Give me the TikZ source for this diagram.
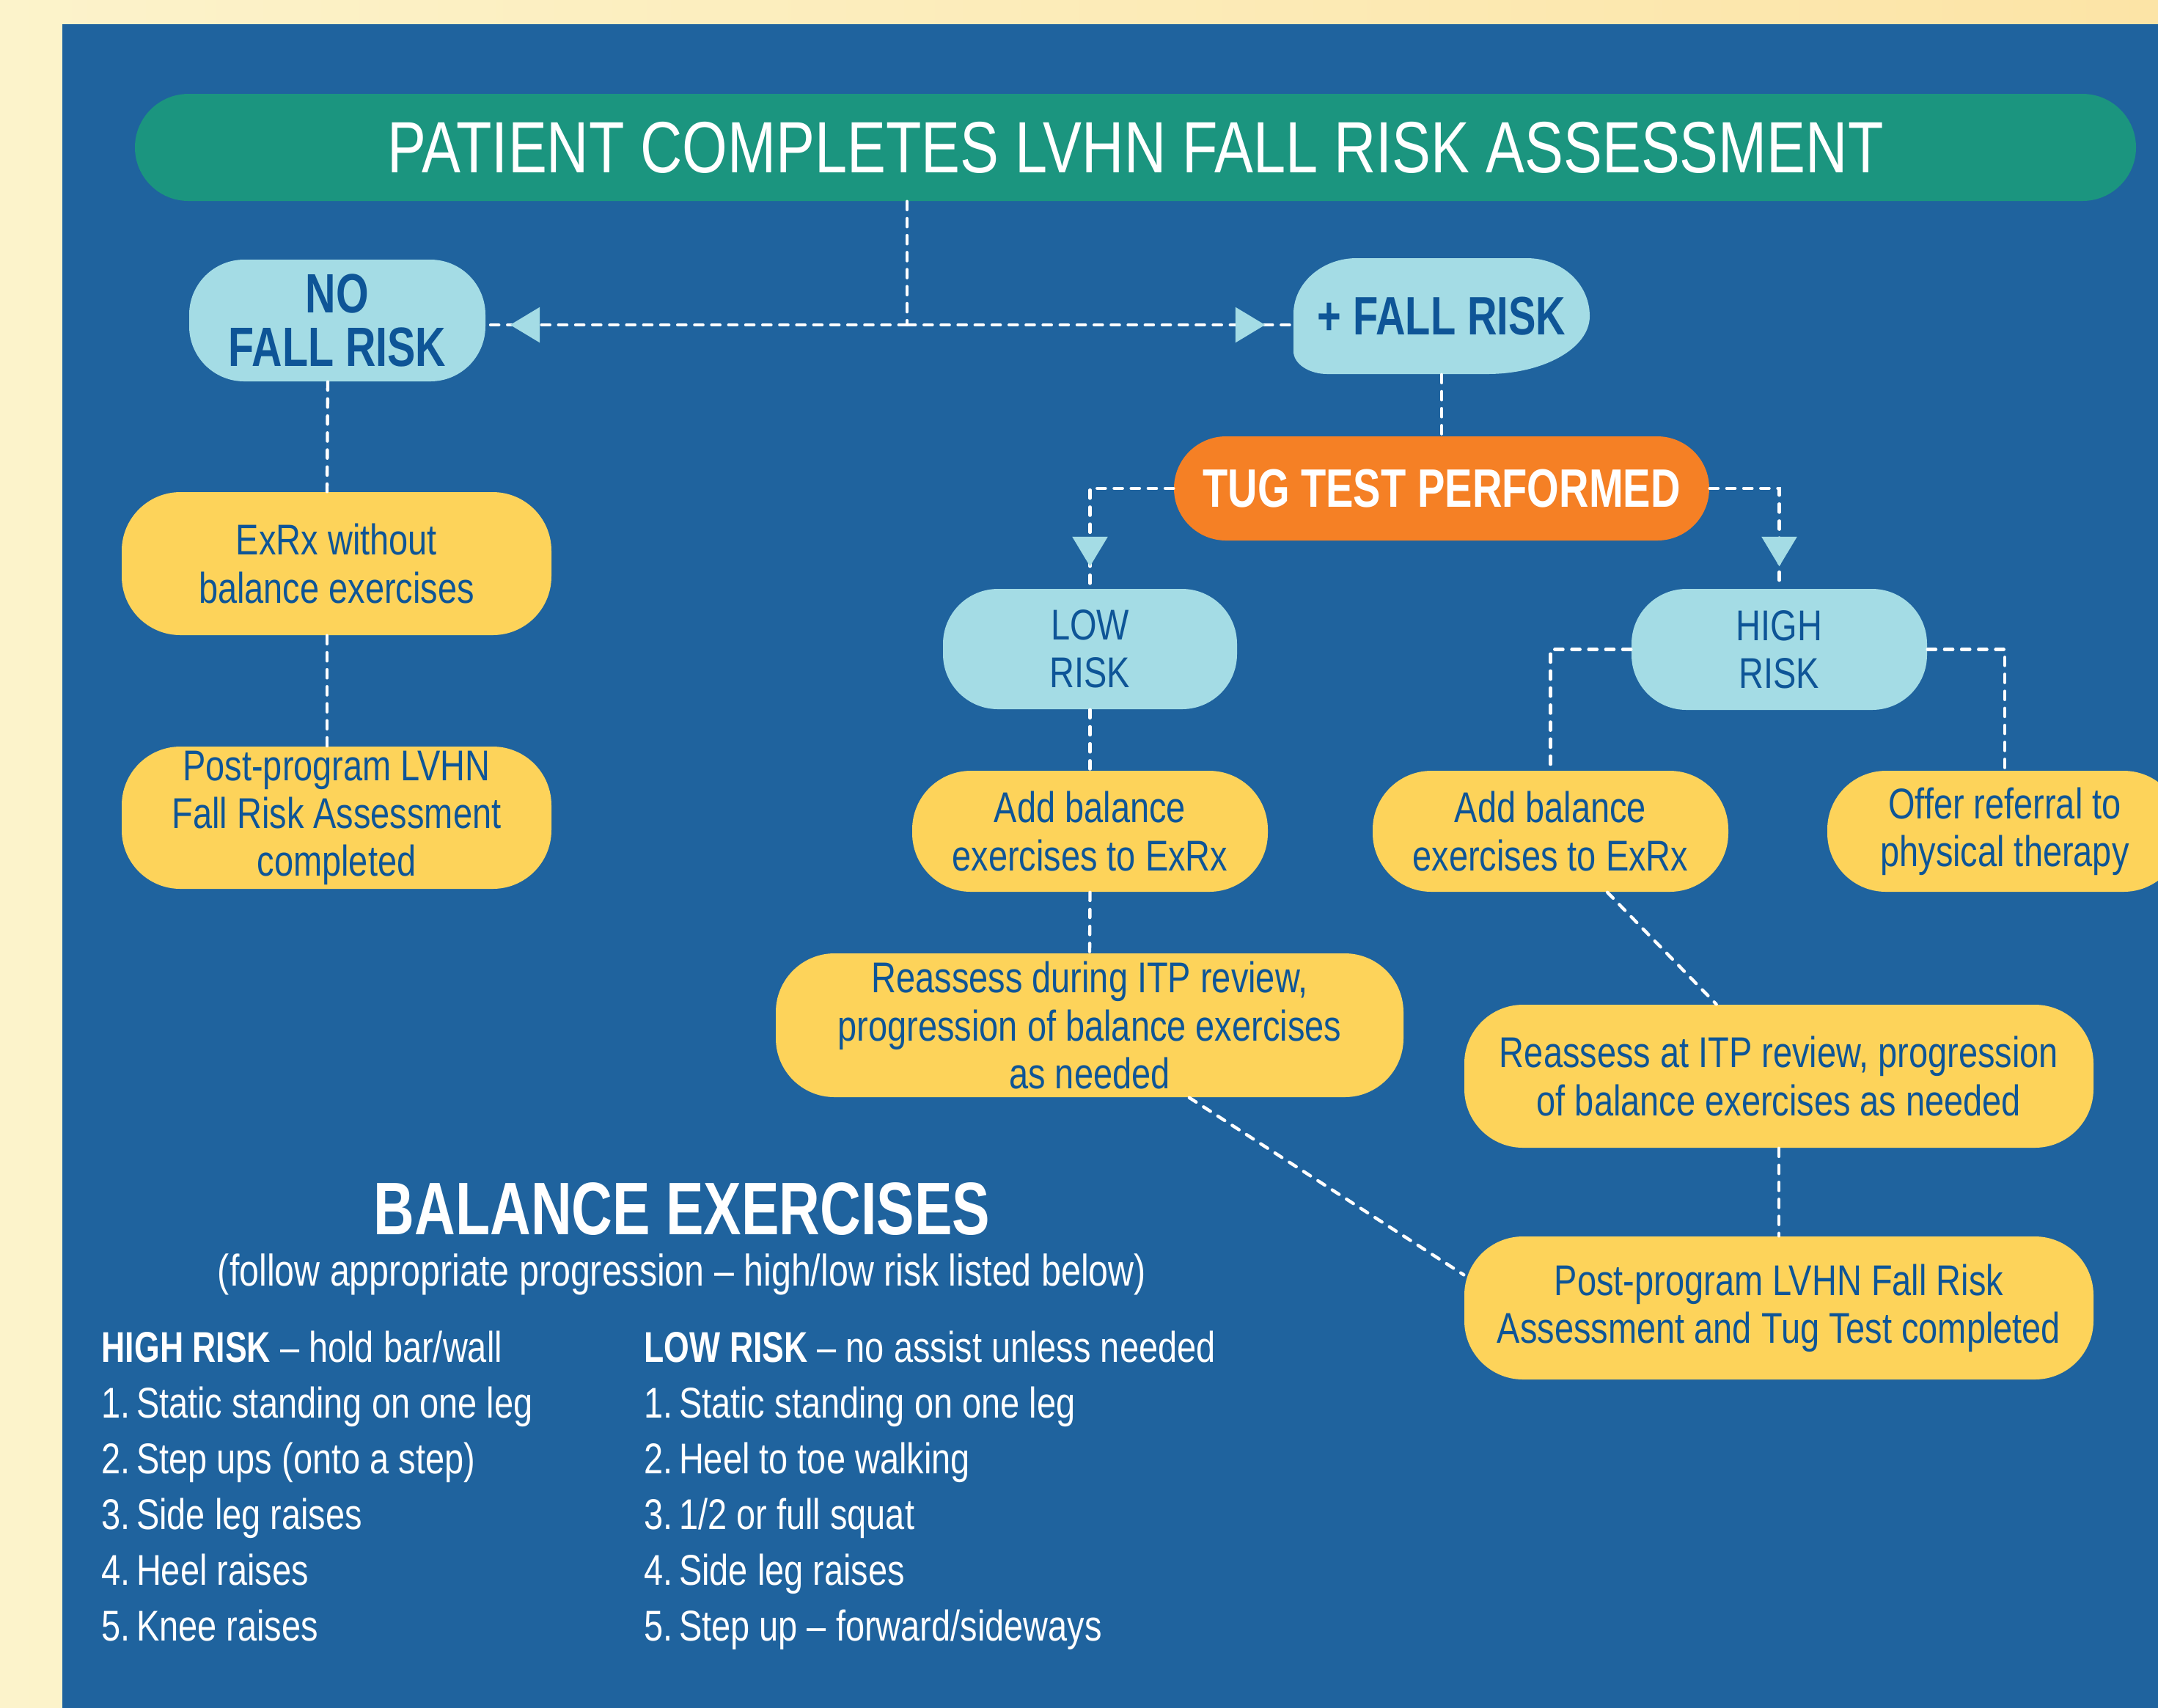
\documentclass[tikz,border=0pt]{standalone}
\usepackage{fontspec}
\setmainfont[FakeStretch=0.8,BoldFeatures={FakeStretch=0.76}]{Liberation Sans}
\usetikzlibrary{arrows.meta,decorations.markings}

\definecolor{creamA}{HTML}{FCF3CB}
\definecolor{creamB}{HTML}{FCE4A6}
\definecolor{panelblue}{HTML}{1F639E}
\definecolor{titlegreen}{HTML}{1B957F}
\definecolor{riskblue}{HTML}{A4DCE5}
\definecolor{textblue}{HTML}{0E5597}
\definecolor{tugorange}{HTML}{F58025}
\definecolor{stepyellow}{HTML}{FDD35A}

\newcommand\flowfont{\fontsize{16.7}{18.5}\selectfont}

\tikzset{
  link/.style={draw=white, line width=1.25pt, line cap=round, dash pattern=on 3.2pt off 3.4pt},
  midtip/.style={postaction={decorate, decoration={markings,
      mark=at position #1 with {\arrow{Triangle[length=11.5pt,width=13.5pt,color=riskblue]}}}}},
  riskbox/.style={fill=riskblue, text=textblue, align=center, inner sep=0pt,
    rounded corners=0.75cm, font=\flowfont},
  stepbox/.style={fill=stepyellow, text=textblue, align=center, inner sep=0pt,
    rounded corners=0.8cm, font=\flowfont},
  listline/.style={anchor=base west, inner sep=0pt, text=white, font=\flowfont},
}

\begin{document}
\begin{tikzpicture}
  \useasboundingbox (0,0) rectangle (29.43,-23.28);
  \shade[left color=creamA, right color=creamB] (0,0) rectangle (29.43,-23.28);
  \fill[panelblue] (0.85,-0.33) rectangle (29.6,-23.6);

  % top of the chart
  \node[fill=titlegreen, text=white, rounded corners=0.73cm, inner sep=0pt,
    minimum width=27.29cm, minimum height=1.46cm,
    font=\fontsize{28.2}{30}\selectfont] (title) at (15.485,-2.01)
    {PATIENT COMPLETES LVHN FALL RISK ASSESSMENT};

  \node[riskbox, minimum width=4.04cm, minimum height=1.66cm,
    font=\fontsize{21.5}{20.8}\selectfont\bfseries] (nofall) at (4.60,-4.37) {NO\\FALL RISK};

  \fill[riskblue] (17.64,-4.28) .. controls (17.64,-3.86) and (18.03,-3.52) .. (18.50,-3.52)
    -- (20.82,-3.52) .. controls (21.30,-3.52) and (21.68,-3.87) .. (21.68,-4.31)
    .. controls (21.68,-4.75) and (21.05,-5.10) .. (20.28,-5.10)
    -- (18.10,-5.10) .. controls (17.85,-5.10) and (17.64,-4.96) .. (17.64,-4.79) -- cycle;
  \node[text=textblue, inner sep=0pt, minimum width=4.04cm, minimum height=1.58cm,
    font=\fontsize{21}{24}\selectfont\bfseries] (plus) at (19.66,-4.31) {+ FALL RISK};

  \node[fill=tugorange, text=white, rounded corners=0.71cm, inner sep=0pt,
    minimum width=7.30cm, minimum height=1.42cm,
    font=\fontsize{21}{24}\selectfont\bfseries] (tug) at (19.66,-6.66) {TUG TEST PERFORMED};

  % risk levels
  \node[riskbox, minimum width=4.01cm, minimum height=1.64cm] (low) at (14.865,-8.85) {LOW\\RISK};
  \node[riskbox, minimum width=4.03cm, minimum height=1.65cm] (high) at (24.265,-8.855) {HIGH\\RISK};

  % left column
  \node[stepbox, minimum width=5.86cm, minimum height=1.95cm] (exrx) at (4.59,-7.685)
    {ExRx without\\balance exercises};
  \node[stepbox, minimum width=5.86cm, minimum height=1.94cm] (postleft) at (4.59,-11.15)
    {Post-program LVHN\\Fall Risk Assessment\\completed};

  % right part
  \node[stepbox, minimum width=4.85cm, minimum height=1.65cm] (addlow) at (14.865,-11.335)
    {Add balance\\exercises to ExRx};
  \node[stepbox, minimum width=4.85cm, minimum height=1.65cm] (addhigh) at (21.145,-11.335)
    {Add balance\\exercises to ExRx};
  \node[stepbox, minimum width=4.84cm, minimum height=1.65cm] (offer) at (27.34,-11.335)
    {Offer referral to\\physical therapy};
  \node[stepbox, minimum width=8.56cm, minimum height=1.96cm] (reduring) at (14.86,-13.98)
    {Reassess during ITP review,\\progression of balance exercises\\as needed};
  \node[stepbox, minimum width=8.58cm, minimum height=1.95cm] (reat) at (24.26,-14.675)
    {Reassess at ITP review, progression\\of balance exercises as needed};
  \node[stepbox, minimum width=8.58cm, minimum height=1.95cm] (postright) at (24.26,-17.835)
    {Post-program LVHN Fall Risk\\Assessment and Tug Test completed};

  % dashed connectors
  \coordinate (split) at (12.37,-4.43);
  \draw[link] (title.south -| split) -- (split);
  \draw[link, midtip=-0.33cm] (split) -- (split -| nofall.east);
  \draw[link, midtip=-0.38cm] (split) -- (split -| plus.west);
  \draw[link] (plus.south) -- (tug.north);
  \draw[link, midtip=-0.30cm] (tug.west) -| (low.north);
  \draw[link, midtip=-0.30cm] (tug.east) -| (high.north);
  \draw[link] (low.south) -- (addlow.north);
  \draw[link] (addlow.south) -- (reduring.north);
  \draw[link] (high.west) -| (addhigh.north);
  \draw[link] (high.east) -| (offer.north);
  \draw[link] (addhigh.-47) -- (reat.131);
  \draw[link] (reat.south) -- (postright.north);
  \draw[link] (reduring.-36) -- (postright.174);
  \draw[link] ([xshift=-0.13cm]nofall.south) -- ([xshift=-0.13cm]exrx.north);
  \draw[link] ([xshift=-0.13cm]exrx.south) -- ([xshift=-0.13cm]postleft.north);

  % exercise list
  \node[anchor=base, inner sep=0pt, text=white, font=\fontsize{28.9}{30}\selectfont\bfseries]
    (balhead) at (9.30,-16.83) {BALANCE EXERCISES};
  \node[anchor=base, inner sep=0pt, text=white, font=\fontsize{17.2}{18}\selectfont]
    (balsub) at (9.30,-17.53) {(follow appropriate progression – high/low risk listed below)};

  \node[listline] (highhead) at (1.38,-18.57) {\textbf{HIGH RISK} – hold bar/wall};
  \node[listline] (lowhead) at (8.78,-18.57) {\textbf{LOW RISK} – no assist unless needed};
  \foreach \ex [count=\i] in {Static standing on one leg, Step ups (onto a step),
      Side leg raises, Heel raises, Knee raises}
    \node[listline] (high\i) at (1.38,{-18.57-0.76*\i}) {\i.\kern0.14em\ex};
  \foreach \ex [count=\i] in {Static standing on one leg, Heel to toe walking,
      1/2 or full squat, Side leg raises, Step up – forward/sideways}
    \node[listline] (low\i) at (8.78,{-18.57-0.76*\i}) {\i.\kern0.14em\ex};
\end{tikzpicture}
\end{document}
